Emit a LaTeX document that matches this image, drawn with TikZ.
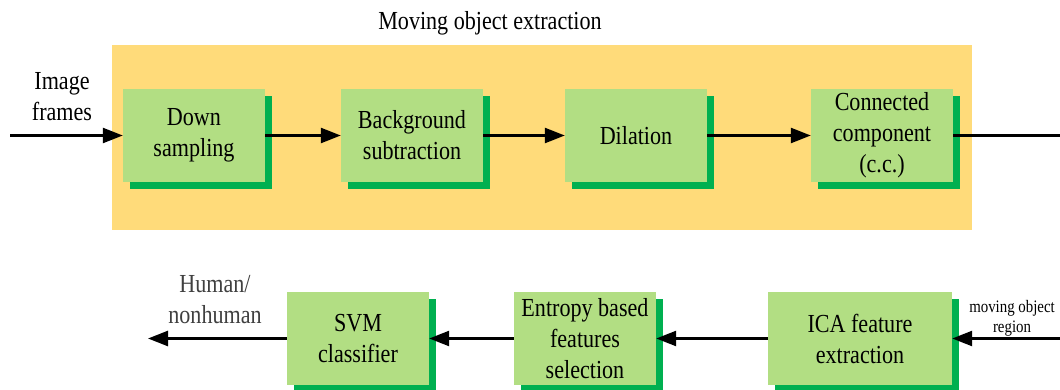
\documentclass[tikz,border=0pt]{standalone}
\usepackage{fontspec}
\setmainfont{Liberation Serif}[FakeStretch=0.85]
\usetikzlibrary{arrows.meta,shadows}

\definecolor{panelorange}{RGB}{255,219,122}
\definecolor{boxgreen}{RGB}{178,222,131}
\definecolor{shadegreen}{RGB}{0,176,80}

\tikzset{
  procbox/.style={
    fill=boxgreen, draw=none,
    minimum width=142pt, minimum height=93pt,
    inner sep=0pt, align=center,
    font=\fontsize{26}{31}\selectfont,
    drop shadow={shadow xshift=7pt, shadow yshift=-7pt,
                 fill=shadegreen, opacity=1}
  },
  flow/.style={line width=2.5pt, -{Triangle[length=20pt,width=15pt]}},
  plainflow/.style={line width=2.5pt},
  biglabel/.style={align=center, inner sep=0pt,
                   font=\fontsize{26}{31}\selectfont},
  smalllabel/.style={align=center, inner sep=0pt,
                     font=\fontsize{17.5}{20}\selectfont}
}

\begin{document}
\begin{tikzpicture}[x=1pt,y=-1pt]
\useasboundingbox (0,0) rectangle (1060,390);
\fill[white] (0,0) rectangle (1060,390);

% moving object extraction stage
\fill[panelorange] (112,45) rectangle (972,230);
\node[biglabel, anchor=base] (title) at (490,30) {Moving object extraction};

\node[procbox] (down) at (194,135.5) {Down\\sampling};
\node[procbox] (bg)   at (412,135.5) {Background\\subtraction};
\node[procbox] (dil)  at (636,135.5) {Dilation};
\node[procbox] (cc)   at (882,135.5) {Connected\\component\\(c.c.)};

% classification stage
\node[procbox, minimum width=184pt] (ica) at (860,338.5) {ICA feature\\extraction};
\node[procbox] (ent) at (585,338.5) {Entropy based\\features\\selection};
\node[procbox] (svm) at (358,338.5) {SVM\\classifier};

% labels
\node[biglabel] (imgin) at (62,97) {Image\\frames};
\node[biglabel, text=black!75] (hlab) at (215,300) {Human/\\nonhuman};
\node[smalllabel] (mlab) at (1012,318) {moving object\\region};

% free ends
\coordinate (src)  at (10,135.5);
\coordinate (out)  at (1060,135.5);
\coordinate (rin)  at (1060,338.5);
\coordinate (dest) at (148,338.5);

% connectors
\draw[flow] (src) -- (down.west);
\draw[flow] (down.east) -- (bg.west);
\draw[flow] (bg.east) -- (dil.west);
\draw[flow] (dil.east) -- (cc.west);
\draw[plainflow] (cc.east) -- (out);

\draw[flow] (rin) -- (ica.east);
\draw[flow] (ica.west) -- (ent.east);
\draw[flow] (ent.west) -- (svm.east);
\draw[flow] (svm.west) -- (dest);
\end{tikzpicture}
\end{document}
